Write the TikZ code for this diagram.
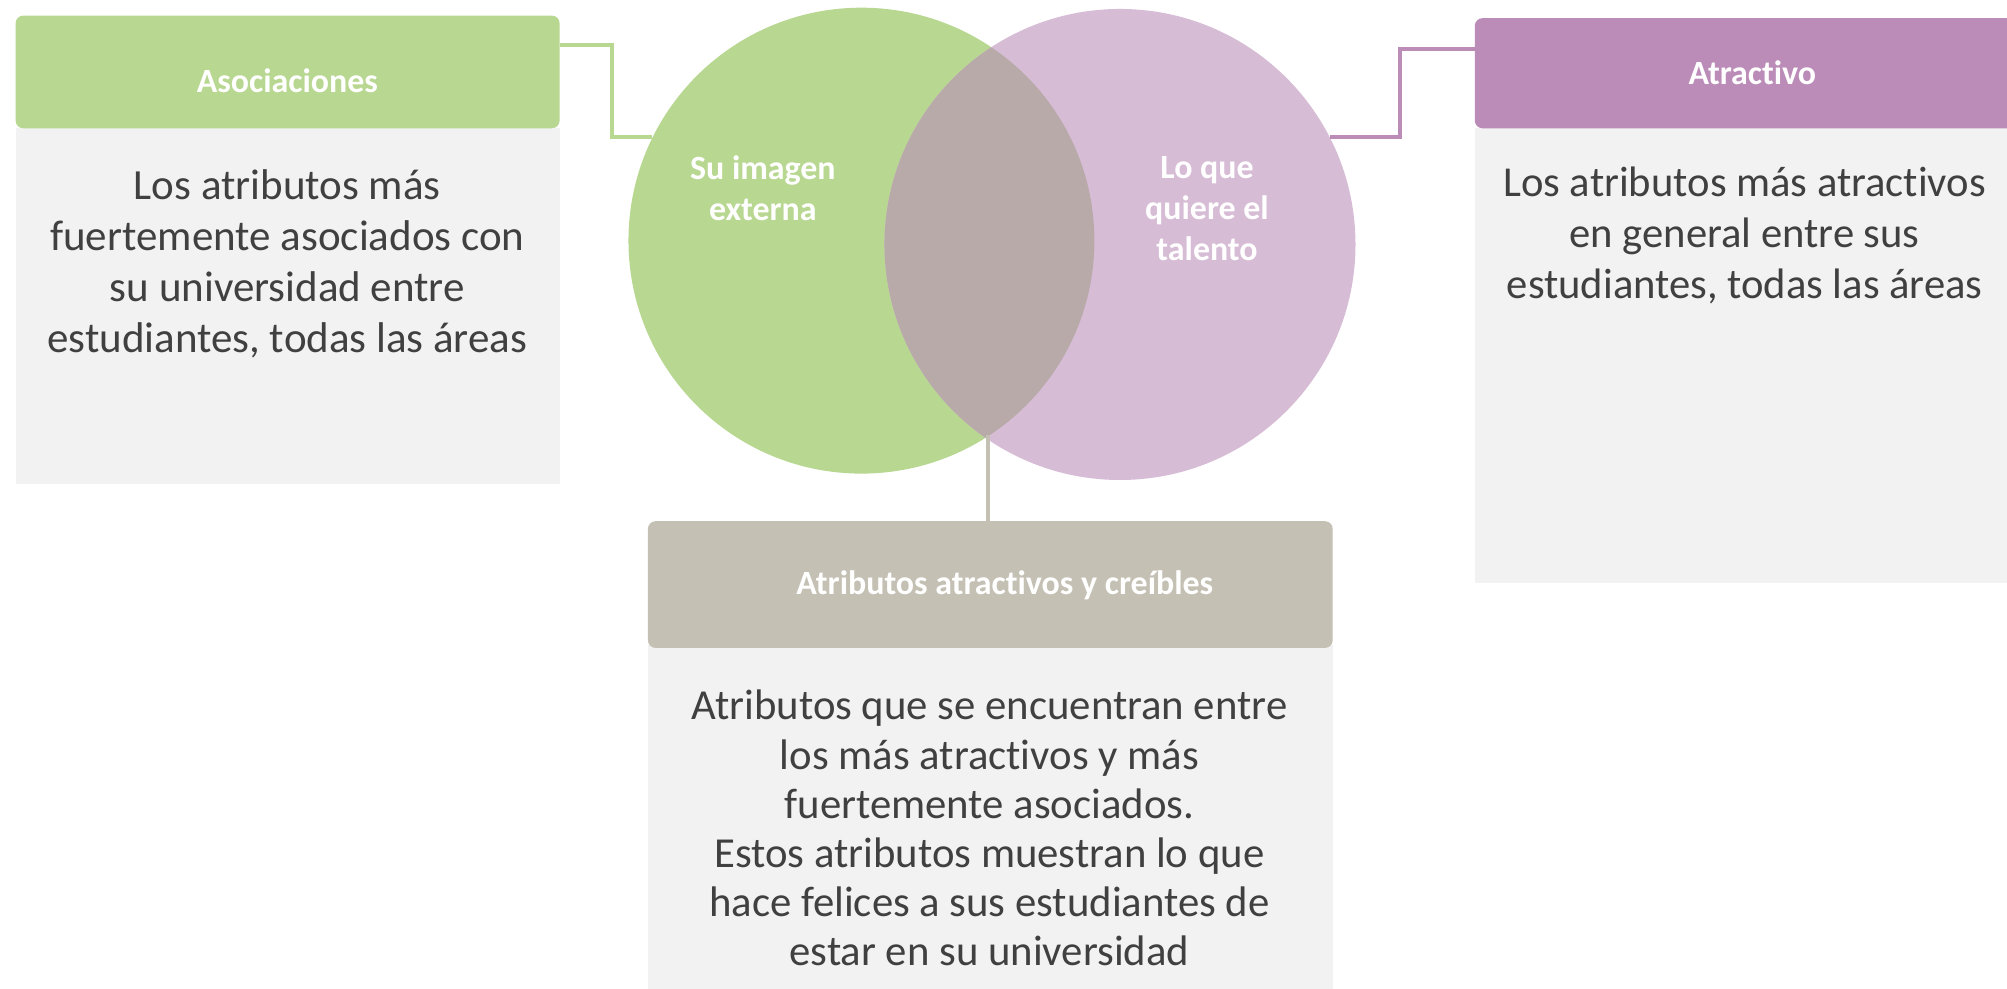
\documentclass[tikz,border=0pt]{standalone}
\usepackage{fontspec}
\setmainfont{Carlito}[Ligatures={NoCommon}]
\definecolor{gr}{HTML}{B8D791}
\definecolor{pu}{HTML}{BB8CB8}
\definecolor{pul}{HTML}{D7BCD6}
\definecolor{tanc}{HTML}{C4C0B4}
\definecolor{mix}{HTML}{B8AAA8}
\definecolor{bodyg}{HTML}{F2F2F2}
\definecolor{txt}{HTML}{404040}
\tikzset{
  bodybox/.style={rectangle, fill=bodyg, draw=none, inner sep=0pt, anchor=north west},
  headbox/.style={rectangle, rounded corners=6pt, draw=none, inner sep=0pt, anchor=north west},
  headtxt/.style={text=white, font=\bfseries\fontsize{26.5}{30}\selectfont, inner sep=0pt},
  circtxt/.style={text=white, align=center, font=\bfseries\fontsize{26.5}{32}\selectfont, inner sep=0pt},
  bodytxt/.style={text=txt, align=center, font=\fontsize{33.3}{40}\selectfont, inner sep=0pt},
  conn/.style={line width=3pt},
  venn/.style={circle, draw=none, inner sep=0pt}
}
\begin{document}
\begin{tikzpicture}[x=1pt,y=-1pt]
\useasboundingbox (0,0) rectangle (1568,772);
\fill[white] (0,0) rectangle (1568,772);

% Venn circles
\node[venn, fill=gr, minimum size=364pt] (gc) at (673,188) {};
\node[venn, fill=pul, minimum size=368pt] (pc) at (875,191) {};
\begin{scope}
  \clip (673,188) circle [radius=182pt];
  \fill[mix] (875,191) circle [radius=184pt];
\end{scope}
\node[circtxt] (gct) at (596,147) {Su imagen\\externa};
\node[circtxt] (pct) at (943,163) {Lo que\\quiere el\\talento};

% Left box
\node[bodybox, minimum width=425pt, minimum height=278pt] (lb) at (12,100) {};
\node[headbox, fill=gr, minimum width=425pt, minimum height=88pt] (lh) at (12,12) {};
\node[headtxt] (lht) at (224.5,63) {Asociaciones};
\node[bodytxt, font=\fontsize{33.6}{40}\selectfont] (lbt) at (224.5,206) {Los atributos más\\fuertemente asociados con\\su universidad entre\\estudiantes, todas las áreas};

% Right box
\node[bodybox, minimum width=416pt, minimum height=355pt] (rb) at (1152,100) {};
\node[headbox, fill=pu, minimum width=422pt, minimum height=86pt] (rh) at (1152,14) {};
\node[headtxt] (rht) at (1369,57) {Atractivo};
\node[bodytxt] (rbt) at (1363,184) {Los atributos más atractivos\\en general entre sus\\estudiantes, todas las áreas};

% Bottom box
\node[bodybox, minimum width=535pt, minimum height=270pt] (bb) at (506,504) {};
\node[headbox, fill=tanc, minimum width=535pt, minimum height=99pt] (bh) at (506,407) {};
\node[headtxt] (bht) at (785,457) {Atributos atractivos y creíbles};
\node[bodytxt, font=\fontsize{33.4}{38.4}\selectfont] (bbt) at (773,647) {Atributos que se encuentran entre\\los más atractivos y más\\fuertemente asociados.\\Estos atributos muestran lo que\\hace felices a sus estudiantes de\\estar en su universidad};

% Connectors
\coordinate (gy) at (0,35);
\coordinate (gk1) at (478,35);
\coordinate (gk2) at (478,107);
\draw[conn, draw=gr] (lh.east |- gy) -- (gk1) -- (gk2) -- (gc.154 |- gk2);

\coordinate (pk1) at (1094,107);
\coordinate (pk2) at (1094,38);
\draw[conn, draw=pu] (pc.27 |- pk1) -- (pk1) -- (pk2) -- (rh.west |- pk2);

\coordinate (vb) at (772,340);
\draw[conn, draw=tanc] (vb) -- (bh.north -| vb);
\end{tikzpicture}
\end{document}
